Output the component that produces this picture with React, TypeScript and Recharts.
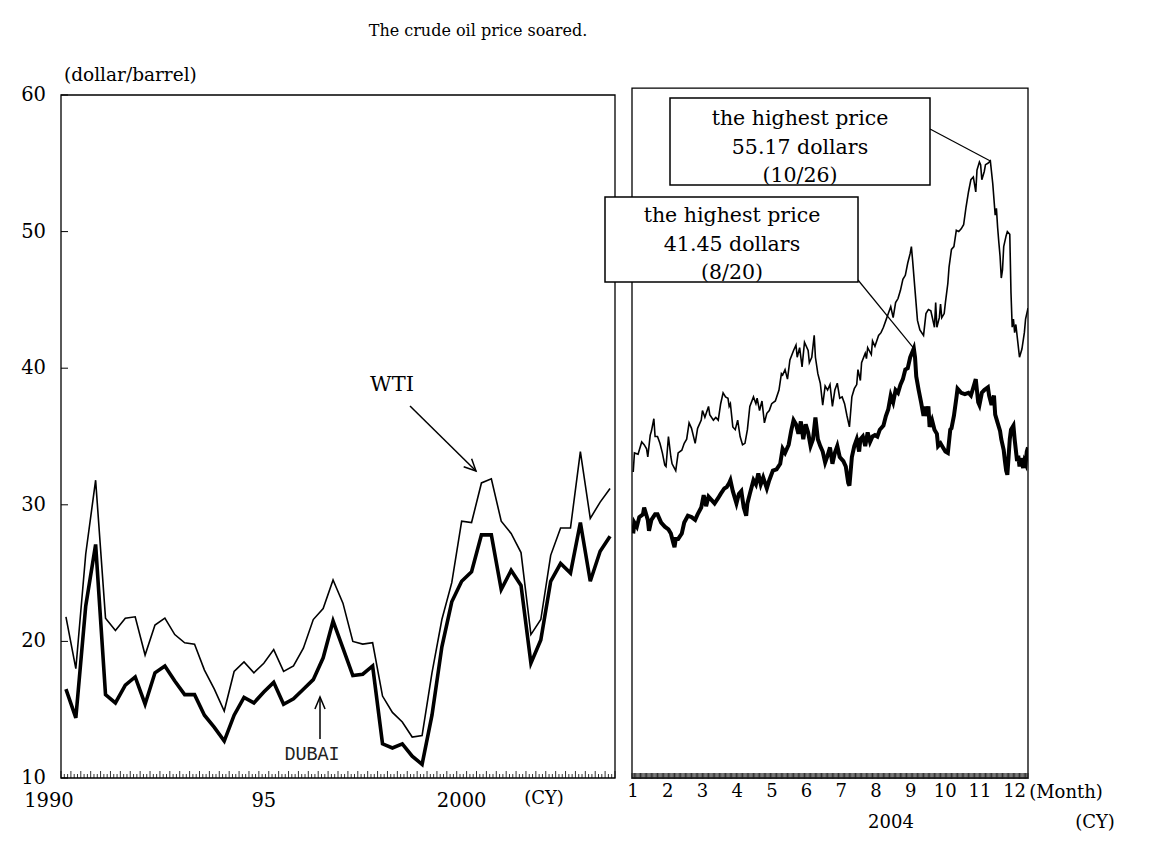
import React from 'react';
import { LineChart, Line, XAxis, YAxis, ReferenceArea } from 'recharts';

const SERIF = '"DejaVu Serif", "Liberation Serif", serif';
const MONO = '"Liberation Mono", "DejaVu Sans Mono", monospace';

// ---------- Left panel: quarterly averages, 1990Q1 - 2003Q4 ----------
const quarterYears = [1990, 1991, 1992, 1993, 1994, 1995, 1996, 1997, 1998, 1999, 2000, 2001, 2002, 2003];
const quarterNames = ['Q1', 'Q2', 'Q3', 'Q4'];
const quarterCategories = quarterYears.flatMap((y) => quarterNames.map((q) => `${y}${q}`));

const wtiQuarterly = [
  21.8, 18.0, 26.4, 31.8, 21.7, 20.8, 21.7, 21.8, 19.0, 21.2, 21.7, 20.5, 19.9, 19.8,
  17.9, 16.5, 14.9, 17.8, 18.5, 17.7, 18.4, 19.4, 17.8, 18.2, 19.5, 21.6, 22.4, 24.5,
  22.8, 20.0, 19.8, 19.9, 16.0, 14.8, 14.1, 13.0, 13.1, 17.7, 21.6, 24.3, 28.8, 28.7,
  31.6, 31.9, 28.8, 27.9, 26.5, 20.5, 21.6, 26.3, 28.3, 28.3, 33.9, 29.0, 30.2, 31.2,
];
const dubaiQuarterly = [
  16.5, 14.4, 22.6, 27.1, 16.1, 15.5, 16.8, 17.4, 15.4, 17.7, 18.2, 17.1, 16.1, 16.1,
  14.6, 13.7, 12.7, 14.6, 15.9, 15.5, 16.3, 17.0, 15.4, 15.8, 16.5, 17.2, 18.8, 21.5,
  19.5, 17.5, 17.6, 18.2, 12.5, 12.2, 12.5, 11.6, 11.0, 14.6, 19.6, 22.9, 24.4, 25.1,
  27.8, 27.8, 23.8, 25.2, 24.1, 18.4, 20.1, 24.4, 25.7, 25.0, 28.7, 24.4, 26.6, 27.7,
];

const yTicks = [10, 20, 30, 40, 50, 60];
const yearTickQuarterIndex = [0, 20, 40];
const yearTickLabels = ['1990', '95', '2000'];

// ---------- Right panel: daily prices in 2004 (day position) ----------
const wtiDays = [
  2, 3, 6, 9, 11, 13, 14, 16, 17, 19, 20, 22, 24, 26, 28, 29, 31, 33, 34, 37, 39, 42, 44, 46, 48, 50,
  53, 55, 58, 59, 61, 64, 65, 68, 70, 72, 74, 76, 78, 80, 81, 82, 84, 86, 88, 90, 92, 94, 96, 98, 101,
  103, 104, 106, 108, 110, 112, 114, 116, 119, 122, 124, 125, 127, 129, 131, 134, 136, 137, 139, 141,
  143, 146, 147, 149, 151, 152, 154, 156, 158, 160, 162, 164, 166, 168, 170, 172, 174, 176, 178, 180,
  182, 184, 186, 187, 189, 190, 193, 194, 195, 198, 199, 201, 204, 206, 208, 210, 212, 214, 216, 218,
  220, 222, 224, 226, 228, 230, 231, 232, 234, 236, 238, 241, 243, 245, 247, 250, 251, 252, 254, 255,
  256, 258, 259, 261, 262, 264, 266, 268, 270, 272, 274, 276, 278, 280, 282, 284, 285, 287, 288, 289,
  291, 292, 294, 296, 298, 300, 301, 302, 303, 304, 305, 306, 307, 309, 310, 312, 313, 314, 315, 316,
  317, 319, 320, 322, 324, 325, 327,
];
const wtiDaily = [
  32.4, 33.8, 33.7, 34.6, 34.4, 34.1, 33.5, 35.1, 35.4, 36.3, 35.0, 35.0, 34.5, 33.8, 32.9, 32.8, 35.0,
  33.5, 33.0, 32.5, 33.8, 34.0, 34.5, 34.8, 36.0, 35.6, 34.5, 35.6, 36.2, 36.9, 36.4, 37.2, 36.6, 36.2,
  36.4, 36.2, 37.4, 38.2, 37.9, 37.8, 37.2, 37.4, 35.7, 35.5, 36.2, 35.0, 34.4, 34.5, 35.5, 37.2, 37.9,
  37.4, 37.8, 36.9, 37.6, 36.0, 36.7, 36.9, 37.4, 37.6, 38.4, 39.6, 39.5, 39.9, 39.2, 40.6, 41.3, 41.7,
  40.8, 41.5, 40.1, 41.9, 41.3, 40.4, 40.8, 42.4, 40.8, 39.6, 38.9, 37.3, 38.7, 38.4, 38.8, 37.2, 38.4,
  38.9, 37.8, 37.9, 37.4, 36.5, 35.7, 37.9, 38.5, 38.8, 39.9, 39.1, 40.4, 41.1, 40.7, 41.5, 41.0, 42.0,
  41.6, 42.4, 42.6, 43.0, 43.5, 44.0, 44.5, 43.7, 44.8, 45.1, 45.7, 46.5, 46.8, 47.7, 48.4, 48.9, 47.9,
  45.7, 43.5, 42.8, 42.4, 44.0, 44.3, 44.2, 43.0, 44.8, 43.0, 43.7, 44.7, 43.7, 44.0, 44.8, 46.2, 47.4,
  48.7, 48.9, 50.1, 50.0, 50.2, 50.5, 51.8, 52.9, 53.8, 54.0, 52.9, 54.5, 55.1, 54.9, 53.8, 54.4, 54.9,
  55.0, 55.17, 53.5, 51.2, 51.7, 50.3, 49.2, 48.2, 46.6, 47.2, 48.9, 49.7, 50.0, 49.8, 45.5, 43.0, 43.6,
  42.6, 43.2, 41.6, 40.8, 41.4, 42.6, 43.6, 44.4,
];
const dubaiDays = [
  2, 3, 5, 7, 10, 11, 14, 15, 17, 20, 22, 25, 28, 31, 33, 35, 36, 37, 39, 42, 44, 47, 50, 53, 55, 58,
  60, 62, 64, 66, 69, 72, 74, 77, 79, 81, 82, 84, 87, 89, 91, 93, 95, 96, 98, 101, 103, 105, 107, 109,
  112, 114, 117, 120, 123, 125, 127, 130, 132, 134, 136, 138, 140, 142, 144, 146, 148, 150, 152, 154,
  156, 158, 160, 162, 164, 166, 168, 170, 172, 175, 177, 179, 180, 182, 184, 186, 188, 189, 191, 193,
  195, 197, 199, 201, 203, 205, 208, 210, 212, 214, 216, 218, 220, 222, 224, 226, 228, 230, 233, 234,
  235, 237, 239, 241, 242, 243, 245, 246, 248, 250, 252, 253, 255, 257, 259, 261, 263, 264, 266, 268,
  269, 272, 275, 278, 280, 283, 284, 286, 287, 289, 291, 294, 295, 297, 299, 300, 302, 304, 305, 307,
  308, 309, 310, 311, 312, 313, 315, 316, 318, 319, 320, 321, 323, 324, 325, 326, 327,
];
const dubaiDaily = [
  27.9, 28.7, 28.4, 29.1, 29.3, 29.8, 28.9, 28.1, 28.9, 29.3, 29.3, 28.7, 28.4, 28.2, 27.9, 27.2, 26.9,
  27.5, 27.5, 27.9, 28.7, 29.2, 29.1, 28.9, 29.3, 29.8, 30.7, 29.9, 30.6, 30.4, 30.1, 30.5, 30.8, 31.2,
  31.3, 31.6, 31.8, 31.0, 30.1, 30.8, 31.0, 29.8, 29.2, 30.1, 30.8, 31.8, 31.5, 32.3, 31.5, 32.0, 31.2,
  31.8, 32.5, 32.6, 33.0, 34.1, 33.8, 34.4, 35.4, 36.2, 35.9, 35.2, 36.1, 34.8, 35.9, 35.3, 34.3, 34.8,
  36.4, 34.8, 34.3, 33.9, 33.1, 33.6, 34.2, 33.0, 33.8, 34.3, 33.5, 33.2, 32.8, 31.6, 31.4, 33.5, 34.3,
  34.8, 33.9, 34.8, 35.0, 34.3, 35.3, 34.6, 35.0, 35.1, 35.0, 35.5, 35.8, 36.5, 37.0, 38.0, 37.5, 38.4,
  38.2, 38.8, 39.2, 39.9, 40.0, 40.8, 41.45, 40.8, 39.4, 38.4, 37.5, 36.5, 37.2, 36.5, 37.2, 35.7, 36.2,
  35.5, 35.2, 34.3, 34.5, 34.2, 33.9, 33.8, 35.5, 35.6, 36.5, 37.8, 38.5, 38.2, 38.1, 38.2, 38.0, 38.9,
  39.2, 37.5, 37.3, 38.2, 38.4, 38.6, 38.0, 37.3, 38.0, 36.6, 36.0, 35.4, 34.8, 34.0, 33.2, 32.5, 32.2,
  33.5, 34.8, 35.5, 35.8, 34.8, 33.2, 33.6, 32.8, 33.4, 32.7, 33.2, 33.0, 33.9, 34.2,
];

const firstDay = 1;
const lastDay = 327;
const monthLabelDays = [1.8, 30.5, 59, 87.6, 116.2, 144.7, 173.3, 201.8, 230.4, 258.9, 287.5, 316];
const monthLabels = ['1', '2', '3', '4', '5', '6', '7', '8', '9', '10', '11', '12'];

const wtiPeak = { day: 296, value: 55.17, lines: ['the highest price', '55.17 dollars', '(10/26)'] };
const dubaiPeak = { day: 233, value: 41.45, lines: ['the highest price', '41.45 dollars', '(8/20)'] };

// ---------- derived tables ----------
const leftData = quarterCategories.map((name, i) => ({
  q: i,
  name,
  wti: wtiQuarterly[i],
  dubai: dubaiQuarterly[i],
}));
const wtiDailyData = wtiDays.map((d, i) => ({ day: d, value: wtiDaily[i] }));
const dubaiDailyData = dubaiDays.map((d, i) => ({ day: d, value: dubaiDaily[i] }));

const leftDomain = [-0.5, quarterCategories.length - 0.5];
const leftMinorTicks = Array.from({ length: quarterCategories.length * 3 + 1 }, (_, k) => -0.5 + k / 3);
const leftTicks = [...leftMinorTicks, ...yearTickQuarterIndex];
const dailyTicks = Array.from({ length: lastDay - firstDay + 1 }, (_, k) => firstDay + k);
const rightTicks = Array.from(new Set([...dailyTicks, ...monthLabelDays])).sort((a, b) => a - b);

// layout
const W = 1156;
const H = 865;
const PLOT_TOP = 95;
const PLOT_BOTTOM = 778;
const LEFT_CHART = { x: 0, w: 620, marginLeft: 0, marginRight: 5, yAxisW: 61 };
const RIGHT_CHART = { x: 620, w: 414, marginLeft: 12, marginRight: 6 };
const XAXIS_H = 40;
const BOTTOM_MARGIN = H - PLOT_BOTTOM - XAXIS_H;
const RIGHT_PLOT_LEFT = RIGHT_CHART.x + RIGHT_CHART.marginLeft;
const RIGHT_PLOT_RIGHT = RIGHT_CHART.x + RIGHT_CHART.w - RIGHT_CHART.marginRight;
const RIGHT_FRAME_TOP_VALUE = 60.5;

const xRight = (d: number) =>
  RIGHT_PLOT_LEFT + ((d - firstDay) / (lastDay - firstDay)) * (RIGHT_PLOT_RIGHT - RIGHT_PLOT_LEFT);
const yVal = (v: number) => PLOT_TOP + ((60 - v) / 50) * (PLOT_BOTTOM - PLOT_TOP);

const LeftYTick = (props: any) => {
  const { x, y, payload } = props;
  return (
    <g>
      <line x1={x} x2={x + 7} y1={y} y2={y} stroke="#000" strokeWidth={1} />
      <text x={x - 15} y={y + 6} textAnchor="end" fontFamily={SERIF} fontSize={19.5} fill="#000">
        {payload.value}
      </text>
    </g>
  );
};

const LeftXTick = (props: any) => {
  const { x, y, payload } = props;
  const v = payload.value;
  const li = yearTickQuarterIndex.indexOf(v);
  if (li >= 0) {
    const dx = li === 0 ? -17 : 0;
    return (
      <text x={x + dx} y={y + 29} textAnchor="middle" fontFamily={SERIF} fontSize={19.5} fill="#000">
        {yearTickLabels[li]}
      </text>
    );
  }
  const k = Math.round((v + 0.5) * 3);
  const len = k % 3 === 0 ? 7 : 4;
  return <line x1={x} x2={x} y1={y} y2={y - len} stroke="#000" strokeWidth={0.8} />;
};

const RightXTick = (props: any) => {
  const { x, y, payload } = props;
  const v = payload.value;
  const mi = monthLabelDays.indexOf(v);
  return (
    <g>
      {Number.isInteger(v) && <line x1={x} x2={x} y1={y + 1} y2={y - 5} stroke="#1a1a1a" strokeWidth={0.9} />}
      {mi >= 0 && (
        <text x={x} y={y + 19} textAnchor="middle" fontFamily={SERIF} fontSize={18} fill="#000">
          {monthLabels[mi]}
        </text>
      )}
    </g>
  );
};

const arrowHead = (x1: number, y1: number, x2: number, y2: number, len = 13, ang = 0.45) => {
  const a = Math.atan2(y2 - y1, x2 - x1);
  const p1 = [x2 - len * Math.cos(a - ang), y2 - len * Math.sin(a - ang)];
  const p2 = [x2 - len * Math.cos(a + ang), y2 - len * Math.sin(a + ang)];
  return `M${p1[0]},${p1[1]} L${x2},${y2} L${p2[0]},${p2[1]}`;
};

const Callout = ({ box, lines, cx, target, anchor, id, first }: any) => (
  <g>
    <line x1={anchor[0]} y1={anchor[1]} x2={target[0]} y2={target[1]} stroke="#000" strokeWidth={1.2} />
    <clipPath id={id}>
      <rect x={box.x} y={box.y} width={box.w} height={box.h} />
    </clipPath>
    <rect x={box.x} y={box.y} width={box.w} height={box.h} fill="#fff" stroke="none" />
    <g clipPath={`url(#${id})`}>
      {lines.map((t: string, i: number) => (
        <text key={i} x={cx} y={box.y + first + i * 28.5} textAnchor="middle" fontFamily={SERIF} fontSize={20.5} fill="#000">
          {t}
        </text>
      ))}
    </g>
    <rect x={box.x} y={box.y} width={box.w} height={box.h} fill="none" stroke="#000" strokeWidth={1.5} />
  </g>
);

export default function App() {
  const wtiAnchor = [930, 129];
  const dubaiAnchor = [858, 280];
  return (
    <div style={{ position: 'absolute', left: 0, top: 0, width: W, height: H, background: '#fff', overflow: 'hidden' }}>
      <div style={{ position: 'absolute', left: LEFT_CHART.x, top: 0 }}>
        <LineChart
          width={LEFT_CHART.w}
          height={H}
          data={leftData}
          margin={{ top: PLOT_TOP, right: LEFT_CHART.marginRight, bottom: BOTTOM_MARGIN, left: LEFT_CHART.marginLeft }}
        >
          <XAxis
            dataKey="q"
            type="number"
            domain={leftDomain}
            ticks={leftTicks}
            interval={0}
            axisLine={false}
            tickLine={false}
            tickSize={0}
            tickMargin={0}
            height={XAXIS_H}
            tick={<LeftXTick />}
            allowDataOverflow
          />
          <YAxis
            domain={[10, 60]}
            ticks={yTicks}
            interval={0}
            width={LEFT_CHART.yAxisW}
            axisLine={false}
            tickLine={false}
            tickSize={0}
            tickMargin={0}
            tick={<LeftYTick />}
            allowDataOverflow
          />
          <ReferenceArea
            x1={leftDomain[0]}
            x2={leftDomain[1]}
            y1={10}
            y2={60}
            fill="none"
            fillOpacity={0}
            stroke="#000"
            strokeWidth={1.3}
            ifOverflow="visible"
          />
          <Line dataKey="wti" type="linear" stroke="#000" strokeWidth={1.6} dot={false} isAnimationActive={false} />
          <Line dataKey="dubai" type="linear" stroke="#000" strokeWidth={3.6} dot={false} isAnimationActive={false} />
        </LineChart>
      </div>

      <div style={{ position: 'absolute', left: RIGHT_CHART.x, top: 0 }}>
        <LineChart
          width={RIGHT_CHART.w}
          height={H}
          margin={{ top: PLOT_TOP, right: RIGHT_CHART.marginRight, bottom: BOTTOM_MARGIN, left: RIGHT_CHART.marginLeft }}
        >
          <XAxis
            dataKey="day"
            type="number"
            domain={[firstDay, lastDay]}
            ticks={rightTicks}
            interval={0}
            axisLine={false}
            tickLine={false}
            tickSize={0}
            tickMargin={0}
            height={XAXIS_H}
            tick={<RightXTick />}
            allowDataOverflow
          />
          <YAxis hide domain={[10, 60]} allowDataOverflow />
          <ReferenceArea
            x1={firstDay}
            x2={lastDay}
            y1={10}
            y2={RIGHT_FRAME_TOP_VALUE}
            fill="none"
            fillOpacity={0}
            stroke="#000"
            strokeWidth={1.3}
            ifOverflow="visible"
          />
          <Line data={wtiDailyData} dataKey="value" name="WTI" type="linear" stroke="#000" strokeWidth={1.6} dot={false} isAnimationActive={false} />
          <Line data={dubaiDailyData} dataKey="value" name="DUBAI" type="linear" stroke="#000" strokeWidth={4} dot={false} isAnimationActive={false} />
        </LineChart>
      </div>

      <svg width={W} height={H} style={{ position: 'absolute', left: 0, top: 0, pointerEvents: 'none' }}>
        <text x={478} y={36} textAnchor="middle" fontFamily={SERIF} fontSize={16} fill="#000">
          The crude oil price soared.
        </text>
        <text x={64} y={81} fontFamily={SERIF} fontSize={18.5} fill="#000">
          (dollar/barrel)
        </text>

        {/* WTI label and arrow */}
        <text x={392} y={391} textAnchor="middle" fontFamily={SERIF} fontSize={21} fill="#000">
          WTI
        </text>
        <line x1={410} y1={406} x2={476} y2={471} stroke="#000" strokeWidth={1.5} />
        <path d={arrowHead(410, 406, 476, 471)} fill="none" stroke="#000" strokeWidth={1.5} />

        {/* DUBAI label and arrow */}
        <text
          x={0}
          y={0}
          transform="translate(312 760) scale(1.15 1.3)"
          textAnchor="middle"
          fontFamily={MONO}
          fontSize={16}
          fill="#222"
        >
          DUBAI
        </text>
        <line x1={320} y1={739} x2={320} y2={697} stroke="#000" strokeWidth={1.5} />
        <path d={arrowHead(320, 739, 320, 697, 13, 0.4)} fill="none" stroke="#000" strokeWidth={1.5} />

        {/* axis unit labels */}
        <text x={544} y={804} textAnchor="middle" fontFamily={SERIF} fontSize={18} fill="#000">
          (CY)
        </text>
        <text x={1066} y={798} textAnchor="middle" fontFamily={SERIF} fontSize={18} fill="#000">
          (Month)
        </text>
        <text x={1095} y={828} textAnchor="middle" fontFamily={SERIF} fontSize={18} fill="#000">
          (CY)
        </text>
        <text x={891} y={828} textAnchor="middle" fontFamily={SERIF} fontSize={18} fill="#000">
          2004
        </text>

        {/* callouts */}
        <Callout
          id="clipA"
          box={{ x: 670, y: 98, w: 260, h: 87 }}
          cx={800}
          first={27}
          lines={wtiPeak.lines}
          anchor={wtiAnchor}
          target={[xRight(wtiPeak.day), yVal(wtiPeak.value)]}
        />
        <Callout
          id="clipB"
          box={{ x: 605, y: 197, w: 253, h: 85 }}
          cx={732}
          first={25}
          lines={dubaiPeak.lines}
          anchor={dubaiAnchor}
          target={[xRight(dubaiPeak.day), yVal(dubaiPeak.value)]}
        />
      </svg>
    </div>
  );
}
